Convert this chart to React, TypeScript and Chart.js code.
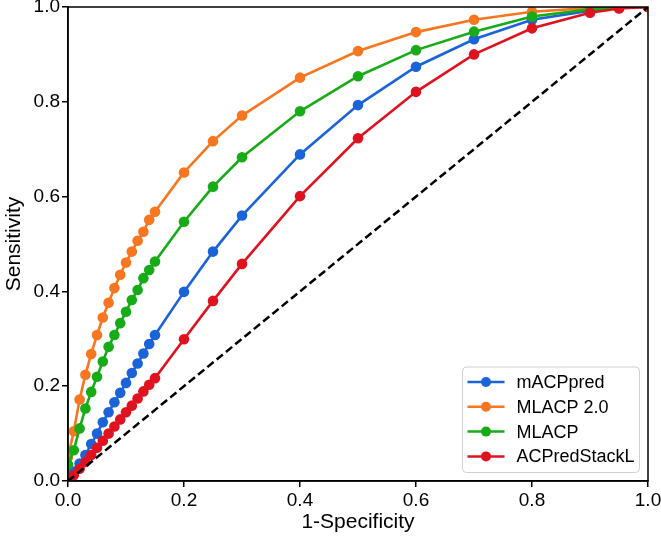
import React, { useEffect, useRef } from "react";
import { Chart, registerables } from "chart.js";

Chart.register(...registerables);

// False positive rate grid (1-Specificity)
const FPR = [0, 0.01, 0.02, 0.03, 0.04, 0.05, 0.06, 0.07, 0.08, 0.09, 0.1, 0.11, 0.12, 0.13, 0.14, 0.15,
  0.2, 0.25, 0.3, 0.4, 0.5, 0.6, 0.7, 0.8, 0.9, 0.95, 1.0];

const SERIES_NAMES = ["mACPpred", "MLACP 2.0", "MLACP", "ACPredStackL"];
const SERIES_COLORS = ["#1a63d8", "#f7761f", "#17ab17", "#df1320"];

const TPR_MACPPRED = [0, 0.02, 0.037, 0.055, 0.078, 0.1, 0.124, 0.145, 0.166, 0.186, 0.207, 0.228, 0.248, 0.269, 0.289, 0.308,
  0.399, 0.484, 0.56, 0.689, 0.793, 0.874, 0.932, 0.973, 0.992, 0.998, 1.0];
const TPR_MLACP2 = [0.05, 0.105, 0.172, 0.224, 0.268, 0.308, 0.345, 0.376, 0.407, 0.435, 0.461, 0.484, 0.507, 0.526, 0.551, 0.568,
  0.651, 0.717, 0.771, 0.851, 0.907, 0.947, 0.973, 0.99, 0.998, 0.999, 1.0];
const TPR_MLACP = [0.035, 0.065, 0.111, 0.153, 0.188, 0.22, 0.252, 0.283, 0.308, 0.333, 0.357, 0.382, 0.403, 0.428, 0.445, 0.463,
  0.547, 0.621, 0.683, 0.78, 0.854, 0.909, 0.948, 0.98, 0.995, 0.999, 1.0];
const TPR_ACPREDSTACKL = [0, 0.012, 0.026, 0.04, 0.055, 0.07, 0.085, 0.1, 0.115, 0.13, 0.145, 0.159, 0.174, 0.189, 0.203, 0.217,
  0.299, 0.38, 0.458, 0.601, 0.723, 0.821, 0.9, 0.955, 0.988, 0.997, 1.0];

const DIAG_X = [0, 1];
const DIAG_Y = [0, 1];

const TICKS = [0, 0.2, 0.4, 0.6, 0.8, 1.0];
const X_TITLE = "1-Specificity";
const Y_TITLE = "Sensitivity";

const FONT = "'Liberation Sans', Arial, sans-serif";

const framePlugin = {
  id: "frame",
  afterDatasetsDraw(chart: any) {
    const { ctx, chartArea } = chart;
    ctx.save();
    ctx.strokeStyle = "#000";
    ctx.lineWidth = 1.5;
    ctx.strokeRect(chartArea.left, chartArea.top, chartArea.right - chartArea.left, chartArea.bottom - chartArea.top);
    ctx.restore();
  },
};

const legendPlugin = {
  id: "mplLegend",
  afterDraw(chart: any) {
    const { ctx, chartArea } = chart;
    const items = chart.data.datasets.filter((d: any) => d.inLegend);
    const w = 177, rowH = 24.8, h = 105.5;
    const x0 = chartArea.right - 8.5 - w;
    const y0 = chartArea.bottom - 8.5 - h;
    ctx.save();
    ctx.beginPath();
    const r = 4;
    ctx.moveTo(x0 + r, y0);
    ctx.arcTo(x0 + w, y0, x0 + w, y0 + h, r);
    ctx.arcTo(x0 + w, y0 + h, x0, y0 + h, r);
    ctx.arcTo(x0, y0 + h, x0, y0, r);
    ctx.arcTo(x0, y0, x0 + w, y0, r);
    ctx.closePath();
    ctx.fillStyle = "rgba(255,255,255,0.85)";
    ctx.fill();
    ctx.strokeStyle = "#d0d0d0";
    ctx.lineWidth = 1;
    ctx.stroke();
    items.forEach((d: any, i: number) => {
      const cy = y0 + 15 + i * rowH;
      ctx.strokeStyle = d.borderColor;
      ctx.lineWidth = 2.5;
      ctx.beginPath();
      ctx.moveTo(x0 + 5, cy);
      ctx.lineTo(x0 + 42, cy);
      ctx.stroke();
      ctx.fillStyle = d.borderColor;
      ctx.beginPath();
      ctx.arc(x0 + 23.5, cy, 5, 0, Math.PI * 2);
      ctx.fill();
      ctx.fillStyle = "#000";
      ctx.font = `18px ${FONT}`;
      ctx.textBaseline = "middle";
      ctx.textAlign = "left";
      ctx.fillText(d.label, x0 + 54, cy + 1);
    });
    ctx.restore();
  },
};

function pts(xs: number[], ys: number[]) {
  return xs.map((x, i) => ({ x, y: ys[i] }));
}

export default function App() {
  const ref = useRef<HTMLCanvasElement | null>(null);

  useEffect(() => {
    if (!ref.current) return;
    const values = [TPR_MACPPRED, TPR_MLACP2, TPR_MLACP, TPR_ACPREDSTACKL];
    const drawOrder = [4, 3, 2, 1];
    const datasets: any[] = SERIES_NAMES.map((name, i) => ({
      label: name,
      inLegend: true,
      data: pts(FPR, values[i]),
      borderColor: SERIES_COLORS[i],
      backgroundColor: SERIES_COLORS[i],
      pointBackgroundColor: SERIES_COLORS[i],
      pointBorderWidth: 0,
      pointRadius: 5.3,
      borderWidth: 2.6,
      showLine: true,
      tension: 0,
      clip: 0,
      order: drawOrder[i],
    }));
    datasets.push({
      label: "diagonal",
      inLegend: false,
      data: pts(DIAG_X, DIAG_Y),
      borderColor: "#000",
      borderDash: [8, 4],
      borderWidth: 2.5,
      pointRadius: 0,
      showLine: true,
      clip: 0,
      order: 0,
    });

    const chart = new Chart(ref.current, {
      type: "scatter",
      data: { datasets },
      plugins: [framePlugin, legendPlugin],
      options: {
        animation: false,
        responsive: false,
        layout: { padding: { top: 7, right: 13, left: 0, bottom: 0 } },
        plugins: { legend: { display: false }, tooltip: { enabled: false } },
        scales: {
          x: {
            type: "linear",
            min: 0,
            max: 1,
            afterBuildTicks: (s: any) => { s.ticks = TICKS.map((v) => ({ value: v })); },
            afterFit: (s: any) => { s.height = 59; s.paddingLeft = 0; s.paddingRight = 0; },
            ticks: {
              color: "#000",
              font: { family: FONT, size: 19 },
              padding: 2,
              maxRotation: 0,
              callback: (v: any) => Number(v).toFixed(1),
            },
            grid: { drawOnChartArea: false, drawTicks: true, tickLength: 6, color: "#000", lineWidth: 1.5 },
            border: { display: true, color: "#000", width: 1.5 },
            title: { display: true, text: X_TITLE, color: "#000", font: { family: FONT, size: 21, lineHeight: 1.2 }, padding: { bottom: 5, top: 0 } },
          },
          y: {
            type: "linear",
            min: 0,
            max: 1,
            afterBuildTicks: (s: any) => { s.ticks = TICKS.map((v) => ({ value: v })); },
            afterFit: (s: any) => { s.width = 68; s.paddingTop = 0; s.paddingBottom = 0; },
            ticks: {
              color: "#000",
              font: { family: FONT, size: 19 },
              padding: 2,
              callback: (v: any) => Number(v).toFixed(1),
            },
            grid: { drawOnChartArea: false, drawTicks: true, tickLength: 6, color: "#000", lineWidth: 1.5 },
            border: { display: true, color: "#000", width: 1.5 },
            title: { display: true, text: Y_TITLE, color: "#000", font: { family: FONT, size: 21, lineHeight: 1.2 }, padding: { top: 2, bottom: 0 } },
          },
        },
      } as any,
    });
    return () => chart.destroy();
  }, []);

  return (
    <div style={{ position: "fixed", left: 0, top: 0, width: 661, height: 540, background: "#fff" }}>
      <canvas ref={ref} width={661} height={540} style={{ width: 661, height: 540, display: "block" }} />
    </div>
  );
}
